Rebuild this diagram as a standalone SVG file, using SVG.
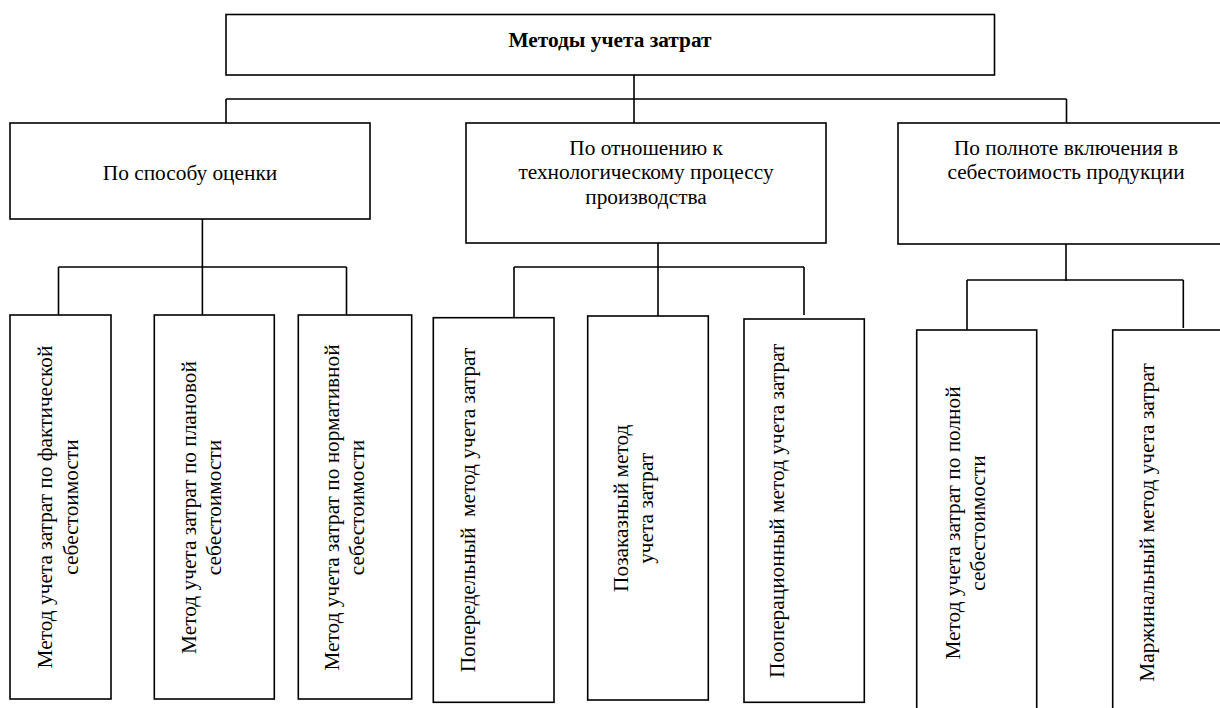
<svg xmlns="http://www.w3.org/2000/svg" width="1220" height="708" viewBox="0 0 1220 708">
<style>
.box{fill:#fff;stroke:#000;stroke-width:1.6}
.ln{fill:none;stroke:#000;stroke-width:1.6}
text{font-family:"Liberation Serif","Times New Roman",serif;font-size:21.33px;fill:#000}
.t{font-weight:bold}
</style>
<rect width="1220" height="708" fill="#fff"/>
<g id="connectors">
<path class="ln" d="M634,75 V123 M226,99 H1066.5 M226,99 V123 M1066.5,99 V123"/>
<path class="ln" d="M202.4,219 V267 M58.5,267 H346.5 M58.5,267 V315 M202.4,267 V315 M346.5,267 V315"/>
<path class="ln" d="M658,243 V319.5 M514,267 H804 M514,267 V317.7 M804,267 V315"/>
<path class="ln" d="M1066,244 V281 M967,280 H1183.3 M967,280 V330 M1183.3,280 V328"/>
</g>
<g id="root">
<rect class="box" x="226" y="14.5" width="768.5" height="60.5"/>
<text class="t" x="610" y="46.5" text-anchor="middle">Методы учета затрат</text>
</g>
<g id="by-evaluation">
<rect class="box" x="10" y="123" width="360" height="96"/>
<text x="190" y="180" text-anchor="middle">По способу оценки</text>
</g>
<g id="by-process">
<rect class="box" x="466" y="123" width="360" height="120"/>
<text text-anchor="middle"><tspan x="646" y="154.5">По отношению к</tspan><tspan x="646" y="179">технологическому процессу</tspan><tspan x="646" y="203.5">производства</tspan></text>
</g>
<g id="by-completeness">
<rect class="box" x="898" y="123" width="342" height="121"/>
<text text-anchor="middle"><tspan x="1066" y="154.5">По полноте включения в</tspan><tspan x="1066" y="179">себестоимость продукции</tspan></text>
</g>
<g id="actual-cost">
<rect class="box" x="10" y="315" width="101" height="384"/>
<text transform="translate(51.5,507) rotate(-90)" text-anchor="middle"><tspan x="0" y="0">Метод учета затрат по фактической</tspan><tspan x="0" y="26">себестоимости</tspan></text>
</g>
<g id="planned-cost">
<rect class="box" x="154.3" y="315" width="120" height="384"/>
<text transform="translate(196,507.5) rotate(-90)" text-anchor="middle"><tspan x="0" y="0">Метод учета затрат по плановой</tspan><tspan x="0" y="25">себестоимости</tspan></text>
</g>
<g id="normative-cost">
<rect class="box" x="298.3" y="315" width="113.4" height="384"/>
<text transform="translate(339,507.5) rotate(-90)" text-anchor="middle"><tspan x="0" y="0">Метод учета затрат по нормативной</tspan><tspan x="0" y="25">себестоимости</tspan></text>
</g>
<g id="process-costing">
<rect class="box" x="433.3" y="317.7" width="120.7" height="384.6"/>
<text xml:space="preserve" transform="translate(475,510) rotate(-90)" text-anchor="middle" x="0" y="0">Попередельный  метод учета затрат</text>
</g>
<g id="job-order">
<rect class="box" x="587.7" y="316" width="120.6" height="384"/>
<text transform="translate(628,508.3) rotate(-90)" text-anchor="middle"><tspan x="0" y="0">Позаказный метод</tspan><tspan x="0" y="24.5">учета затрат</tspan></text>
</g>
<g id="operation-costing">
<rect class="box" x="744" y="319" width="120.3" height="383.3"/>
<text transform="translate(784,510.8) rotate(-90)" text-anchor="middle" x="0" y="0">Пооперационный метод учета затрат</text>
</g>
<g id="full-cost">
<rect class="box" x="916.7" y="330" width="120" height="420"/>
<text transform="translate(960,523) rotate(-90)" text-anchor="middle"><tspan x="0" y="0">Метод учета затрат по полной</tspan><tspan x="0" y="25">себестоимости</tspan></text>
</g>
<g id="marginal">
<rect class="box" x="1112.7" y="330" width="200" height="420"/>
<text transform="translate(1154,522.5) rotate(-90)" text-anchor="middle" x="0" y="0">Маржинальный метод учета затрат</text>
</g>
</svg>
